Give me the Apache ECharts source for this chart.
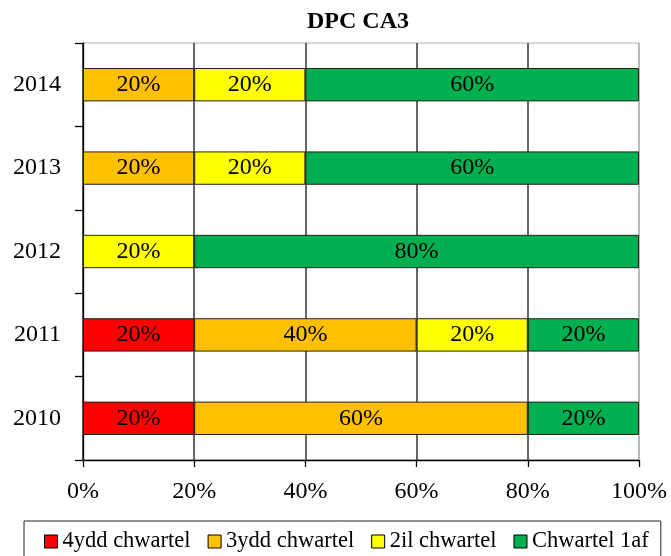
<!DOCTYPE html>
<html>
<head>
<meta charset="utf-8">
<script src="https://cdn.jsdelivr.net/npm/echarts@6/dist/echarts.min.js"></script>
<style>html,body{margin:0;padding:0;background:#fff}#c{width:671px;height:556px}</style>
</head>
<body>
<div id="c"></div>
<script>
const categories = ['2010', '2011', '2012', '2013', '2014'];
const seriesNames = ['4ydd chwartel', '3ydd chwartel', '2il chwartel', 'Chwartel 1af'];
const q4 = [20, 20, 0, 0, 0];
const q3 = [60, 40, 0, 20, 20];
const q2 = [0, 20, 20, 20, 20];
const q1 = [20, 20, 80, 60, 60];
const xTicks = [0, 20, 40, 60, 80, 100];
const colors = ['#FF0000', '#FFC000', '#FFFF00', '#00B050'];
const values = [q4, q3, q2, q1];

const FONT = "'Liberation Serif', 'Times New Roman', serif";
const chart = echarts.init(document.getElementById('c'), null, {renderer: 'canvas'});

chart.setOption({
  animation: false,
  backgroundColor: '#fff',
  title: {
    text: 'DPC CA3',
    left: 302, top: 5,
    textStyle: {fontFamily: FONT, fontSize: 24, fontWeight: 'bold', color: '#000'}
  },
  grid: {
    left: 83, right: 32, top: 43, bottom: 96,
    show: true, borderColor: '#b0b0b0', borderWidth: 1, backgroundColor: 'transparent'
  },
  legend: {
    data: seriesNames,
    left: 24, top: 521,
    padding: [9, 12, 12, 20],
    itemGap: 17,
    itemWidth: 13, itemHeight: 13,
    icon: 'rect',
    borderColor: '#222', borderWidth: 1,
    itemStyle: {borderColor: '#000', borderWidth: 1},
    textStyle: {fontFamily: FONT, fontSize: 22.5, color: '#000'}
  },
  xAxis: {
    type: 'value',
    min: xTicks[0], max: xTicks[xTicks.length - 1], interval: 20,
    axisLine: {show: true, lineStyle: {color: '#000', width: 1.3}},
    axisTick: {show: true, length: 7, lineStyle: {color: '#000', width: 1.3}},
    axisLabel: {formatter: '{value}%', margin: 20, fontFamily: FONT, fontSize: 24, color: '#000'},
    splitLine: {show: true, lineStyle: {color: ['#333', '#333', '#333', '#333', '#333', '#b0b0b0'], width: 1.5}}
  },
  yAxis: {
    type: 'category',
    data: categories,
    axisLine: {show: true, lineStyle: {color: '#000', width: 1.3}},
    axisTick: {show: true, length: 8, lineStyle: {color: '#000', width: 1.3}},
    axisLabel: {margin: 22, fontFamily: FONT, fontSize: 24, color: '#000', padding: [4, 0, 0, 0]},
    splitLine: {show: false}
  },
  series: seriesNames.map((name, i) => ({
    name: name,
    type: 'bar',
    stack: 'total',
    barWidth: '40%',
    data: values[i].map(v => (v === 0 ? null : v)),
    itemStyle: {color: colors[i], borderColor: '#222', borderWidth: 1},
    label: {
      show: true, position: 'inside',
      formatter: p => (p.value ? p.value + '%' : ''),
      fontFamily: FONT, fontSize: 24, color: '#000'
    }
  }))
});
</script>
</body>
</html>
